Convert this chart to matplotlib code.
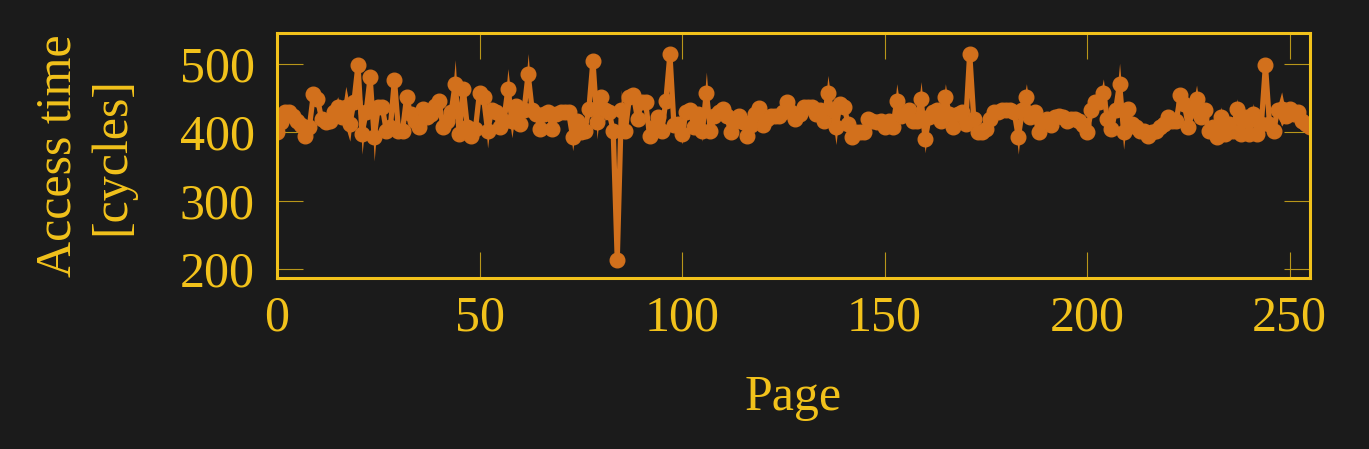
import matplotlib
matplotlib.use("Agg")
import matplotlib.pyplot as plt
import numpy as np

# colours
BG = '#1b1b1b'
GOLD = '#f2c21b'
ORANGE = '#d2701c'

# measured access time per page
access_time = [
    400, 415, 429, 429, 424, 417, 410, 394, 407, 456,
    449, 420, 415, 417, 429, 437, 422, 437, 412, 444,
    498, 398, 429, 480, 393, 437, 437, 402, 407, 477,
    402, 402, 451, 427, 417, 407, 434, 422, 427, 439,
    446, 407, 417, 429, 471, 398, 463, 407, 395, 405,
    458, 451, 402, 432, 429, 407, 417, 463, 417, 439,
    412, 432, 485, 432, 427, 405, 427, 429, 405, 427,
    429, 429, 429, 393, 417, 400, 402, 434, 504, 415,
    451, 432, 429, 402, 214, 432, 402, 451, 454, 420,
    444, 444, 394, 407, 422, 402, 446, 514, 410, 412,
    398, 429, 432, 407, 427, 402, 458, 402, 424, 429,
    434, 424, 400, 417, 424, 415, 395, 410, 427, 436,
    410, 420, 424, 424, 424, 429, 444, 430, 420, 427,
    437, 437, 437, 427, 432, 417, 458, 432, 407, 441,
    437, 412, 393, 400, 400, 400, 420, 417, 415, 417,
    407, 417, 407, 446, 424, 427, 432, 417, 417, 449,
    390, 422, 429, 432, 417, 451, 427, 407, 427, 429,
    412, 515, 420, 400, 400, 405, 420, 429, 429, 432,
    432, 432, 429, 393, 432, 451, 422, 429, 400, 417,
    420, 410, 422, 424, 422, 417, 420, 420, 417, 410,
    400, 432, 444, 444, 458, 420, 405, 432, 471, 400,
    434, 412, 407, 402, 402, 395, 400, 402, 407, 412,
    422, 417, 417, 454, 441, 407, 432, 449, 422, 432,
    402, 407, 393, 422, 398, 412, 402, 434, 398, 422,
    398, 427, 398, 412, 498, 412, 402, 432, 434, 424,
    434, 427, 429, 417, 412, 407,
]
pages = np.arange(len(access_time))

# spread of the measurements (small everywhere, larger on a few pages)
base_err = 6
spike_pages = [15, 17, 18, 21, 24, 44, 52, 57, 58, 62, 73, 79, 81, 85, 100,
               105, 106, 136, 138, 153, 159, 160, 165, 183, 185, 204, 208,
               209, 224, 227, 233, 237, 241, 248]
spike_sizes = [15, 30, 25, 30, 35, 35, 25, 30, 25, 30, 20, 25, 15, 30, 15,
               15, 30, 25, 25, 25, 25, 20, 20, 25, 20, 20, 30,
               25, 20, 20, 15, 15, 15, 25]

err = np.full(len(access_time), base_err, dtype=float)
err[spike_pages] = spike_sizes
y = np.array(access_time, dtype=float)

plt.rcParams['font.family'] = ['Liberation Serif', 'DejaVu Serif']

fig = plt.figure(figsize=(13.69, 4.49), dpi=100, facecolor=BG)
ax = fig.add_axes([0.2023, 0.3808, 0.7546, 0.5457], facecolor=BG)

ax.fill_between(pages, y - err, y + err, color=ORANGE, lw=0)
ax.plot(pages, y, color=ORANGE, lw=3.8, marker='o', ms=10.5)

ax.set_xlim(0, 255)
ax.set_ylim(187, 545)
ax.set_xticks([0, 50, 100, 150, 200, 250])
ax.set_yticks([200, 300, 400, 500])

for s in ax.spines.values():
    s.set_color(GOLD)
    s.set_linewidth(2.2)

ax.tick_params(axis='both', direction='in', length=19, width=0.8,
               color='#b8961a', labelcolor=GOLD, labelsize=36,
               top=True, right=True)
ax.tick_params(axis='y', pad=16)
ax.tick_params(axis='x', pad=12)

ax.set_xlabel('Page', color=GOLD, fontsize=36, labelpad=24)
ax.set_ylabel('Access time\n[cycles]', color=GOLD, fontsize=36,
              labelpad=32, linespacing=1.2)

fig.savefig('out.png', dpi=100, facecolor=BG)
